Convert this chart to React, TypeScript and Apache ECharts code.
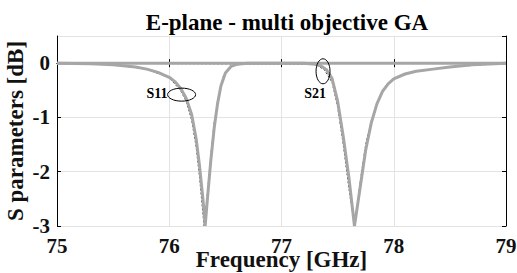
import React, { useEffect, useRef } from "react";
import * as echarts from "echarts";

const title = "E-plane - multi objective GA";
const xName = "Frequency [GHz]";
const yName = "S parameters [dB]";
const xTicks = [75, 76, 77, 78, 79];
const yTicks = [-3, -2, -1, 0];

// measured (thick gray)
const s11Freq = [75.0, 75.3, 75.5, 75.7, 75.8, 75.9, 76.0, 76.05, 76.1, 76.15, 76.2, 76.24, 76.27, 76.3, 76.32, 76.34, 76.37, 76.4, 76.43, 76.46, 76.5, 76.55, 76.6, 76.7, 77.0, 78.0, 79.0];
const s11Val = [0, -0.01, -0.03, -0.07, -0.11, -0.17, -0.26, -0.34, -0.46, -0.64, -0.95, -1.4, -1.9, -2.5, -3.0, -2.5, -1.8, -1.2, -0.75, -0.42, -0.18, -0.06, -0.02, 0, 0, 0, 0];
const s21Freq = [75.0, 76.0, 77.0, 77.2, 77.3, 77.35, 77.4, 77.45, 77.5, 77.55, 77.6, 77.65, 77.7, 77.75, 77.8, 77.85, 77.9, 77.95, 78.0, 78.1, 78.2, 78.35, 78.5, 78.7, 79.0];
const s21Val = [0, 0, 0, 0, -0.02, -0.05, -0.12, -0.28, -0.7, -1.35, -2.1, -3.0, -2.3, -1.6, -1.1, -0.75, -0.52, -0.38, -0.29, -0.2, -0.15, -0.11, -0.07, -0.03, 0];
// simulated (thin dark dashed)
const s11SimFreq = [75.0, 75.5, 75.8, 76.0, 76.1, 76.15, 76.2, 76.24, 76.27, 76.31, 76.34, 76.37, 76.4, 76.44, 76.48, 76.55, 76.7, 79.0];
const s11SimVal = [0, -0.03, -0.11, -0.27, -0.5, -0.7, -1.05, -1.55, -2.1, -3.0, -2.4, -1.7, -1.1, -0.6, -0.25, -0.05, 0, 0];
const s21SimFreq = [75.0, 77.3, 77.38, 77.45, 77.5, 77.55, 77.6, 77.65, 77.7, 77.75, 77.8, 77.9, 78.0, 78.2, 78.5, 79.0];
const s21SimVal = [0, -0.02, -0.12, -0.35, -0.8, -1.5, -2.3, -3.0, -2.2, -1.5, -1.05, -0.5, -0.28, -0.15, -0.07, 0];

const zip = (xs: number[], ys: number[]) => xs.map((x, i) => [x, ys[i]]);

const FONT = "'Liberation Serif', 'Times New Roman', serif";

export default function App() {
  const ref = useRef<HTMLDivElement>(null);
  useEffect(() => {
    const chart = echarts.init(ref.current!, null, { renderer: "svg" });
    const axisCommon = {
      axisLine: { show: true, lineStyle: { color: "#000", width: 1 } },
      axisTick: { show: true, inside: true, length: 4, lineStyle: { color: "#000" } },
    };
    chart.setOption({
      animation: false,
      backgroundColor: "#fff",
      title: {
        text: title,
        left: 282,
        textAlign: "center",
        top: 6,
        textStyle: { fontFamily: FONT, fontWeight: "bold", fontSize: 23, color: "#000" },
      },
      grid: { left: 57, right: 11, top: 36, bottom: 47, outerBoundsMode: "none", containLabel: false },
      xAxis: [
        {
          type: "value",
          min: 75,
          max: 79,
          interval: 1,
          name: xName,
          nameLocation: "middle",
          nameGap: 22,
          nameMoveOverlap: false,
          nameTextStyle: { fontFamily: FONT, fontWeight: "bold", fontSize: 23, color: "#111" },
          ...axisCommon,
          axisLabel: { fontFamily: FONT, fontWeight: "bold", fontSize: 21, color: "#111", margin: 9 },
          splitLine: { show: true, lineStyle: { color: "#e3e3e3", width: 1 } },
        },
        {
          type: "value",
          position: "top",
          min: 75,
          max: 79,
          interval: 1,
          ...axisCommon,
          axisLabel: { show: false },
          splitLine: { show: false },
        },
      ],
      yAxis: [
        {
          type: "value",
          min: -3,
          max: 0.5,
          interval: 1,
          name: yName,
          nameLocation: "middle",
          nameGap: 30,
          nameMoveOverlap: false,
          nameTextStyle: { fontFamily: FONT, fontWeight: "bold", fontSize: 23, color: "#111" },
          ...axisCommon,
          axisLabel: {
            fontFamily: FONT,
            fontWeight: "bold",
            fontSize: 21,
            color: "#111",
            margin: 7,
            showMaxLabel: false,
            formatter: (v: number) => (yTicks.includes(v) ? String(v) : ""),
          },
          splitLine: { show: true, lineStyle: { color: "#e3e3e3", width: 1 } },
        },
        {
          type: "value",
          position: "right",
          min: -3,
          max: 0.5,
          interval: 1,
          ...axisCommon,
          axisLabel: { show: false },
          splitLine: { show: false },
        },
      ],
      series: [
        {
          name: "S11 sim",
          type: "line",
          data: zip(s11SimFreq, s11SimVal),
          showSymbol: false,
          lineStyle: { color: "#333", width: 1, type: [2, 2] },
          z: 1,
        },
        {
          name: "S21 sim",
          type: "line",
          data: zip(s21SimFreq, s21SimVal),
          showSymbol: false,
          lineStyle: { color: "#333", width: 1, type: [2, 2] },
          z: 1,
        },
        {
          name: "S11",
          type: "line",
          data: zip(s11Freq, s11Val),
          showSymbol: false,
          lineStyle: { color: "#a6a6a6", width: 3 },
          z: 2,
        },
        {
          name: "S21",
          type: "line",
          data: zip(s21Freq, s21Val),
          showSymbol: false,
          lineStyle: { color: "#a6a6a6", width: 3 },
          z: 2,
        },
      ],
    });

    const p11 = chart.convertToPixel({ gridIndex: 0 }, [76.11, -0.58]) as number[];
    const p21 = chart.convertToPixel({ gridIndex: 0 }, [77.37, -0.15]) as number[];
    chart.setOption({
      graphic: [
        {
          type: "ellipse",
          shape: { cx: p11[0], cy: p11[1], rx: 14, ry: 6.5 },
          style: { fill: "none", stroke: "#000", lineWidth: 1 },
          z: 10,
        },
        {
          type: "text",
          x: p11[0] - 14,
          y: p11[1] - 1,
          style: { text: "S11", fontFamily: FONT, fontWeight: "bold", fontSize: 14, fill: "#000", align: "right", verticalAlign: "middle" },
          z: 10,
        },
        {
          type: "ellipse",
          shape: { cx: p21[0], cy: p21[1], rx: 7, ry: 12.5 },
          style: { fill: "none", stroke: "#000", lineWidth: 1 },
          z: 10,
        },
        {
          type: "text",
          x: p21[0] - 8,
          y: p21[1] + 22,
          style: { text: "S21", fontFamily: FONT, fontWeight: "bold", fontSize: 14, fill: "#000", align: "center", verticalAlign: "middle" },
          z: 10,
        },
      ],
    });
    return () => chart.dispose();
  }, []);
  return <div ref={ref} style={{ width: 517, height: 273, position: "absolute", left: 0, top: 0 }} />;
}
